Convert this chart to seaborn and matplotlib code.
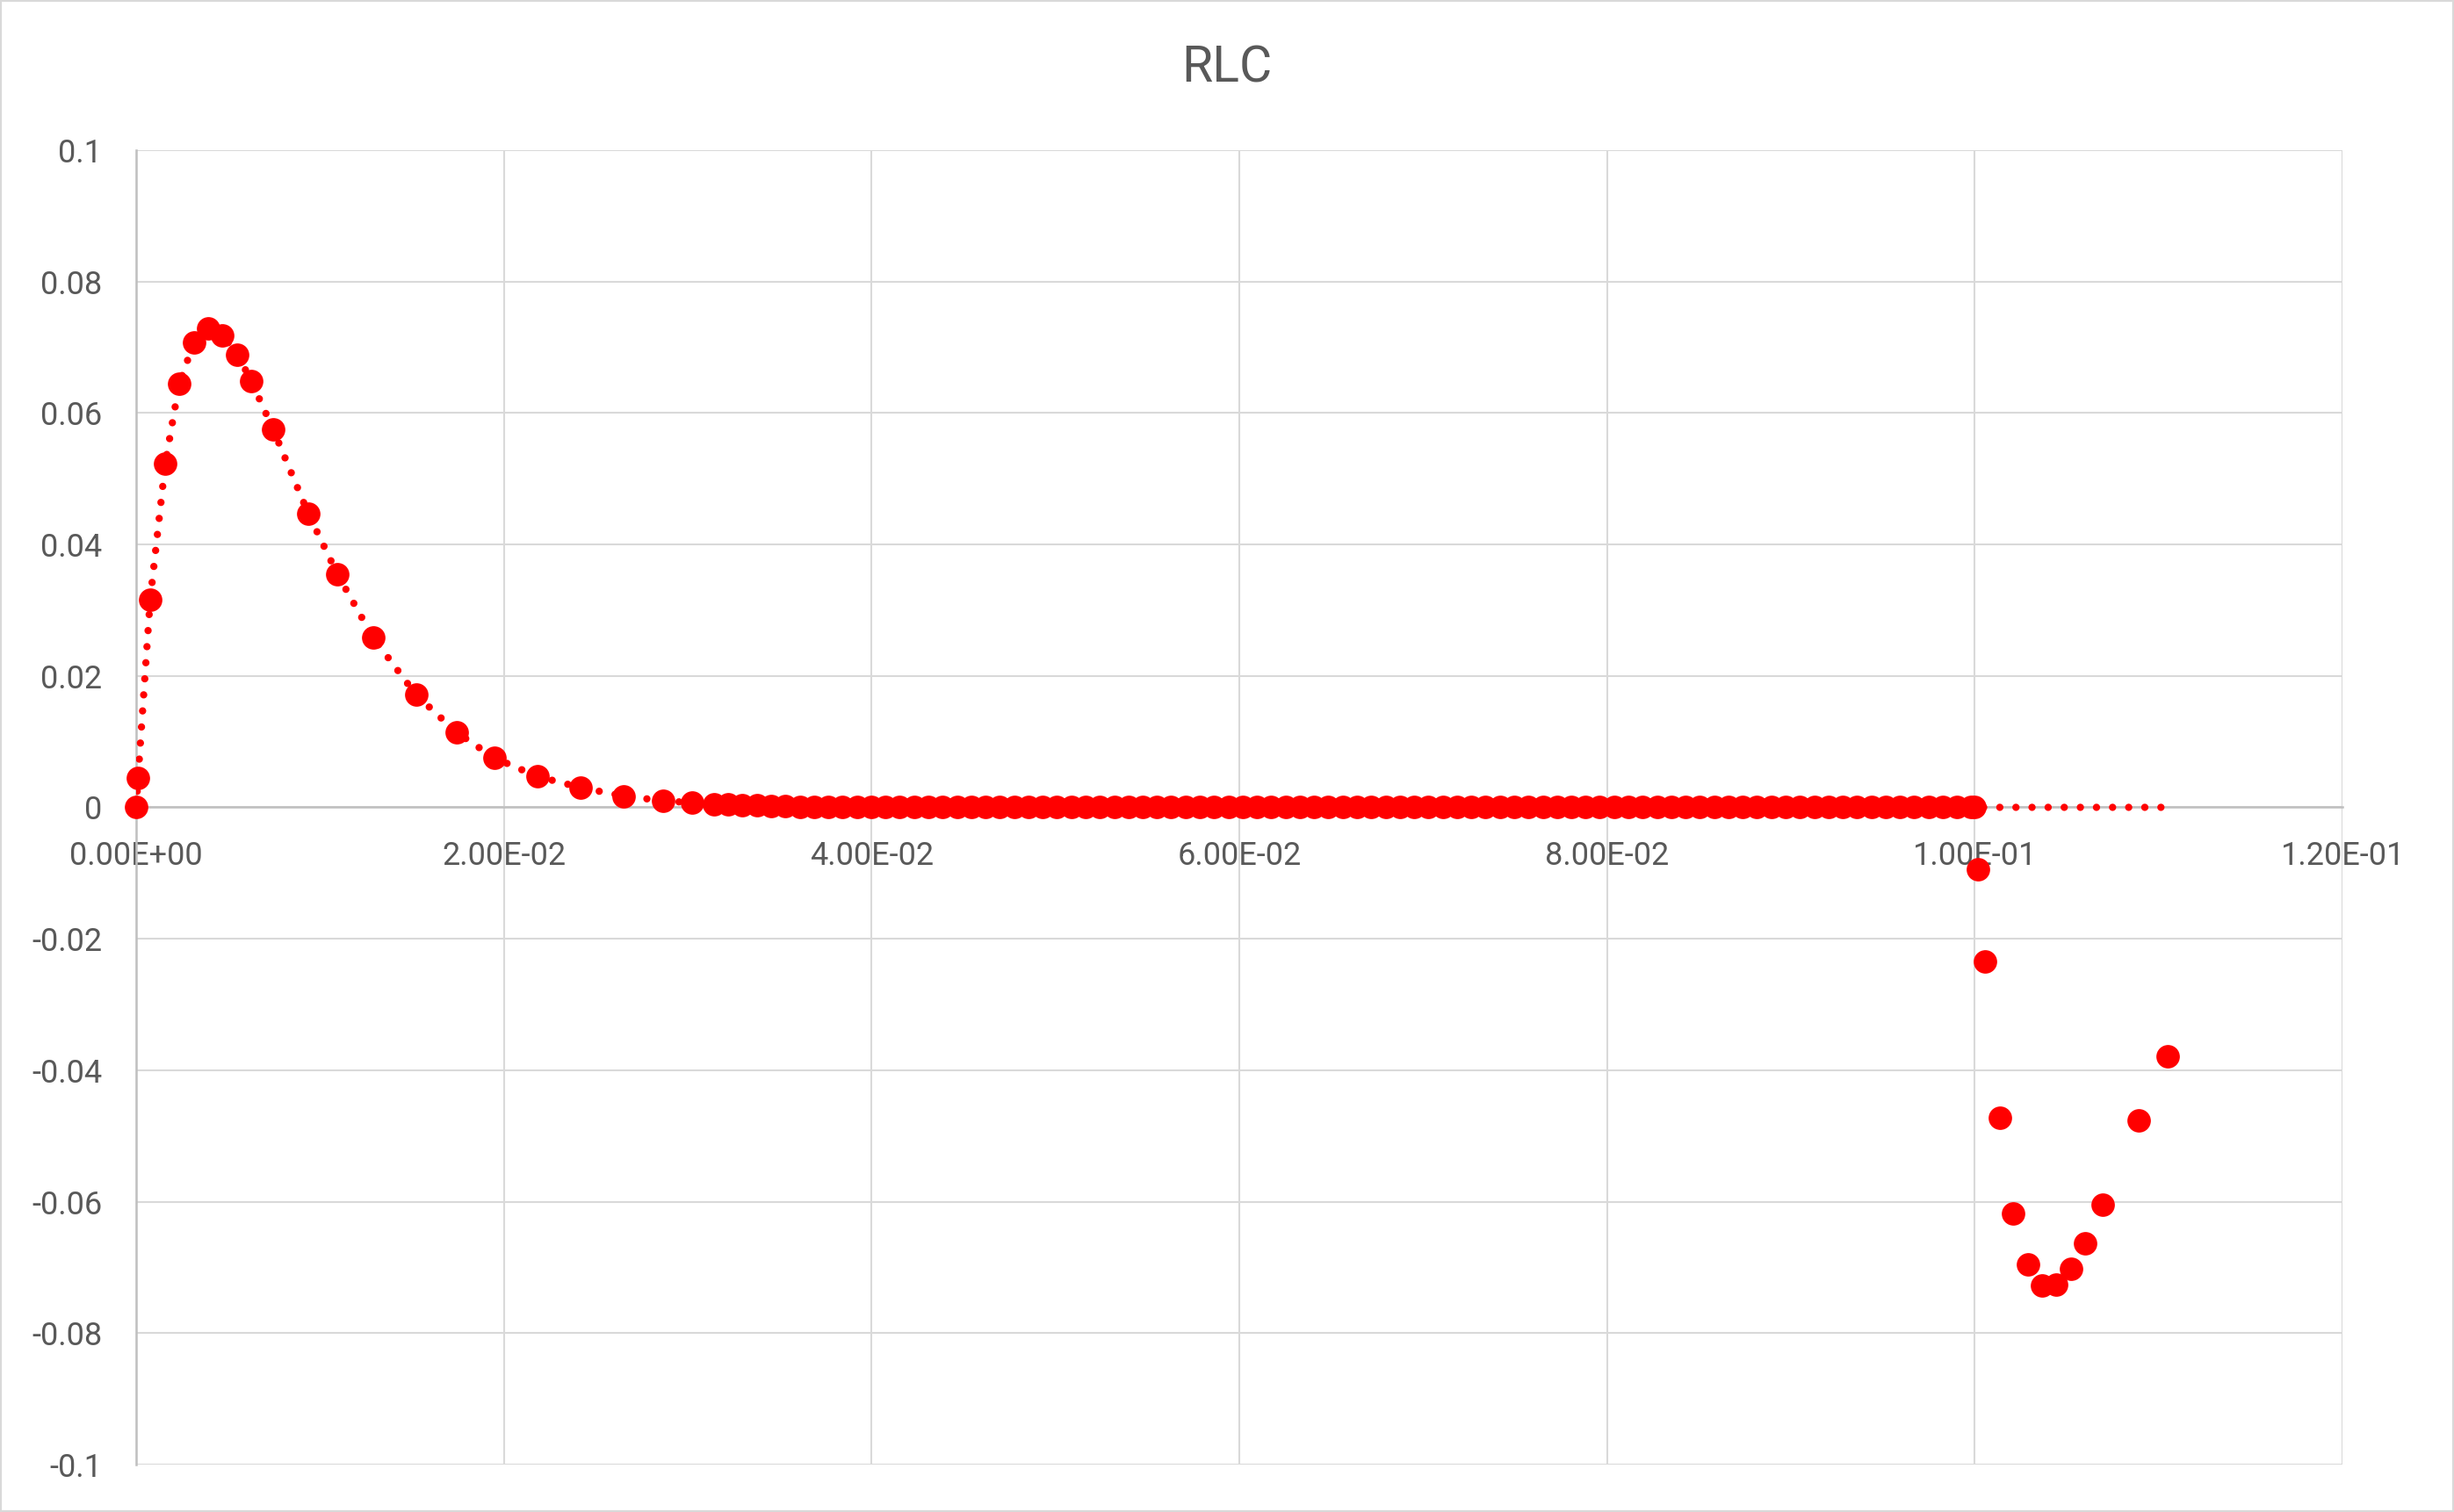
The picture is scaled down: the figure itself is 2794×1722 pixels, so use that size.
import numpy as np
import pandas as pd
import matplotlib
matplotlib.use('Agg')
import matplotlib.pyplot as plt
import seaborn as sns
from matplotlib.ticker import MultipleLocator, FuncFormatter
from matplotlib.patches import Rectangle

# RLC response
# rising pulse and decay
rise_t = [0.0, 0.0001, 0.00076, 0.00158, 0.00234, 0.00315, 0.00392, 0.0047, 0.00551, 0.00627,
          0.00745, 0.00936, 0.01094, 0.01289, 0.01523, 0.01743, 0.01949, 0.02182, 0.02418,
          0.02653, 0.02866, 0.03022]
rise_v = [0.0, 0.0045, 0.0316, 0.0523, 0.0645, 0.0708, 0.0729, 0.0718, 0.0689, 0.0648,
          0.0575, 0.0447, 0.0355, 0.0258, 0.0171, 0.0114, 0.0075, 0.0047, 0.0030,
          0.0017, 0.0010, 0.0007]

# flat part, almost zero
flat_t = [0.03143, 0.03221, 0.03298, 0.03376, 0.03454, 0.03532, 0.03609, 0.03687, 0.03765, 0.03842,
          0.03920, 0.03998, 0.04075, 0.04153, 0.04231, 0.04309, 0.04386, 0.04464, 0.04542, 0.04619,
          0.04697, 0.04775, 0.04852, 0.04930, 0.05008, 0.05086, 0.05163, 0.05241, 0.05319, 0.05396,
          0.05474, 0.05552, 0.05629, 0.05707, 0.05785, 0.05863, 0.05940, 0.06018, 0.06096, 0.06173,
          0.06251, 0.06329, 0.06406, 0.06484, 0.06562, 0.06640, 0.06717, 0.06795, 0.06873, 0.06950,
          0.07028, 0.07106, 0.07183, 0.07261, 0.07339, 0.07417, 0.07494, 0.07572, 0.07650, 0.07727,
          0.07805, 0.07883, 0.07960, 0.08038, 0.08116, 0.08194, 0.08271, 0.08349, 0.08427, 0.08504,
          0.08582, 0.08660, 0.08737, 0.08815, 0.08893, 0.08971, 0.09048, 0.09126, 0.09204, 0.09281,
          0.09359, 0.09437, 0.09514, 0.09592, 0.09670, 0.09748, 0.09825, 0.09903, 0.09981, 0.10000]
flat_v = [0.0005, 0.0004, 0.0003, 0.0003, 0.0002, 0.0002, 0.0001, 0.0001, 0.0001, 0.0001] + [0.0] * 80

# negative swing after t = 0.1 (markers only)
swing_t = [0.10019, 0.10053, 0.10134, 0.10210, 0.10287, 0.10366, 0.10443, 0.10521, 0.10602,
           0.10697, 0.10893, 0.11051]
swing_v = [-0.0094, -0.0235, -0.0473, -0.0618, -0.0696, -0.0727, -0.0726, -0.0702, -0.0663,
           -0.0605, -0.0477, -0.0379]
# dotted series stays at zero there
swing_line_v = [0.0, 0.0, 0.0, 0.0, 0.0, 0.0, 0.0, 0.0, 0.0, 0.0, 0.0, 0.0]

pts = pd.DataFrame({'t': rise_t + flat_t + swing_t, 'v': rise_v + flat_v + swing_v})
line = pd.DataFrame({'t': rise_t + flat_t + swing_t, 'v': rise_v + flat_v + swing_line_v})

sns.set_style('white')
plt.rcParams['font.family'] = ['Roboto', 'DejaVu Sans']

fig = plt.figure(figsize=(27.94, 17.22), dpi=100)
ax = fig.add_axes([0.0555, 0.0314, 0.8991, 0.8693])

sns.scatterplot(data=pts, x='t', y='v', color='#ff0000', s=370, linewidth=0, ax=ax,
                zorder=3, clip_on=False)
sns.lineplot(data=line, x='t', y='v', sort=False, estimator=None, color='#ff0000', lw=6,
             linestyle=(0, (0.001, 2.2)), dash_capstyle='round', ax=ax, zorder=4)

ax.set_xlim(0, 0.12)
ax.set_ylim(-0.1, 0.1)
ax.xaxis.set_major_locator(MultipleLocator(0.02))
ax.yaxis.set_major_locator(MultipleLocator(0.02))
ax.xaxis.set_major_formatter(FuncFormatter(lambda x, p: '{:.2E}'.format(abs(x) if abs(x) < 1e-12 else x)))

def yfmt(y, p):
    y = round(y, 2)
    if y == 0:
        return '0'
    return '{:g}'.format(y)

ax.yaxis.set_major_formatter(FuncFormatter(yfmt))

ax.grid(True, color='#d9d9d9', lw=1.5)
ax.set_axisbelow(True)
for s in ['top', 'right']:
    ax.spines[s].set_visible(False)
ax.spines['bottom'].set_position(('data', 0))
ax.spines['bottom'].set_color('#bfbfbf')
ax.spines['left'].set_color('#bfbfbf')
ax.spines['bottom'].set_linewidth(1.8)
ax.spines['left'].set_linewidth(1.8)

ax.tick_params(axis='x', length=0, pad=27, labelsize=26, labelcolor='#595959')
ax.tick_params(axis='y', length=0, pad=28, labelsize=26, labelcolor='#595959')
ax.set_xlabel('')
ax.set_ylabel('')

fig.text(0.5, 0.9545, 'RLC', ha='center', va='center', fontsize=41, color='#595959')

fig.patches.append(Rectangle((0, 0), 1, 1, transform=fig.transFigure, fill=False,
                             edgecolor='#d9d9d9', lw=3))

fig.savefig('out.png', dpi=100)
